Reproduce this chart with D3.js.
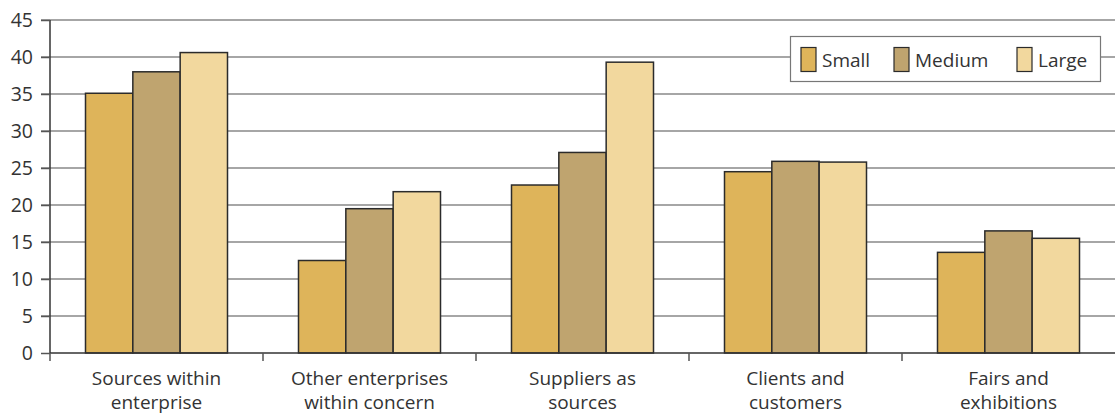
<!DOCTYPE html>
<html><head><meta charset="utf-8">
<script src="https://cdn.jsdelivr.net/npm/d3@7"></script>
<style>body{margin:0;background:#fff}svg{display:block}text{font-family:"Open Sans","Noto Sans",sans-serif;fill:#333}</style>
</head><body><svg id="c" width="1115" height="414"></svg>
<script>
const categories = [["Sources within","enterprise"],["Other enterprises","within concern"],["Suppliers as","sources"],["Clients and","customers"],["Fairs and","exhibitions"]];
const seriesNames = ["Small","Medium","Large"];
const small = [35.1, 12.5, 22.7, 24.5, 13.6];
const medium = [38.0, 19.5, 27.1, 25.9, 16.5];
const large = [40.6, 21.8, 39.3, 25.8, 15.5];
const colors = ["#DEB45A","#BFA46F","#F2D89E"];
const yTicks = [0,5,10,15,20,25,30,35,40,45];

(function(){
const svg = d3.select("#c");
const mLeft = 50, mRight = 1115, mTop = 20, mBottom = 353;
const x = d3.scaleBand().domain(d3.range(categories.length)).range([mLeft, mRight]).paddingInner(0).paddingOuter(0);
const inner = d3.scaleBand().domain(d3.range(3)).range([0, x.bandwidth()]).paddingOuter(0.75).paddingInner(0);
const y = d3.scaleLinear().domain([0,45]).range([mBottom, mTop]);
const series = [small, medium, large];

// gridlines
svg.append("g").selectAll("line").data(yTicks.filter(d=>d>0)).join("line")
  .attr("x1", mLeft-9).attr("x2", mRight).attr("y1", d=>y(d)).attr("y2", d=>y(d))
  .attr("stroke", "#888").attr("stroke-width", 1.5);

// y axis
const ya = svg.append("g").attr("transform", `translate(${mLeft},0)`).call(d3.axisLeft(y).tickValues(yTicks).tickSize(9).tickPadding(8));
ya.select(".domain").attr("stroke","#333").attr("stroke-width",1.5).attr("d", `M0,${mTop}V${mBottom}`);
ya.selectAll(".tick line").attr("stroke","#555").attr("stroke-width",1.5);
ya.selectAll(".tick text").attr("font-size", 19.5).attr("fill","#333").style("font-family",'"Open Sans","Noto Sans",sans-serif');

// bars
series.forEach((vals, si) => {
  svg.append("g").selectAll("rect").data(vals).join("rect")
    .attr("x", (d,i)=>x(i)+inner(si)).attr("width", inner.bandwidth())
    .attr("y", d=>y(d)).attr("height", d=>y(0)-y(d))
    .attr("fill", colors[si]).attr("stroke", "#2b2b2b").attr("stroke-width", 1.5);
});

// x axis
svg.append("line").attr("x1", mLeft).attr("x2", mRight).attr("y1", mBottom).attr("y2", mBottom).attr("stroke","#333").attr("stroke-width",1.5);
svg.append("g").selectAll("line").data(d3.range(categories.length)).join("line")
  .attr("x1", d=>x(d)).attr("x2", d=>x(d)).attr("y1", mBottom).attr("y2", mBottom+8)
  .attr("stroke","#555").attr("stroke-width",1.5);
const xl = svg.append("g").selectAll("text").data(categories).join("text")
  .attr("x", (d,i)=>x(i)+x.bandwidth()/2).attr("y", 385).attr("text-anchor","middle").attr("font-size",19);
xl.each(function(d){
  const t = d3.select(this);
  d.forEach((line, k) => t.append("tspan").attr("x", t.attr("x")).attr("dy", k===0?0:24).text(line));
});

// legend
const lg = svg.append("g");
lg.append("rect").attr("x",790.5).attr("y",36.5).attr("width",310).attr("height",45).attr("fill","#fff").attr("stroke","#777").attr("stroke-width",1.2);
const lx = [801, 894, 1017];
seriesNames.forEach((n,i)=>{
  lg.append("rect").attr("x",lx[i]).attr("y",47.5).attr("width",15).attr("height",24).attr("fill",colors[i]).attr("stroke","#2b2b2b").attr("stroke-width",1.2);
  lg.append("text").attr("x",lx[i]+21).attr("y",66.5).attr("font-size",19).text(n);
});
})();
</script></body></html>
